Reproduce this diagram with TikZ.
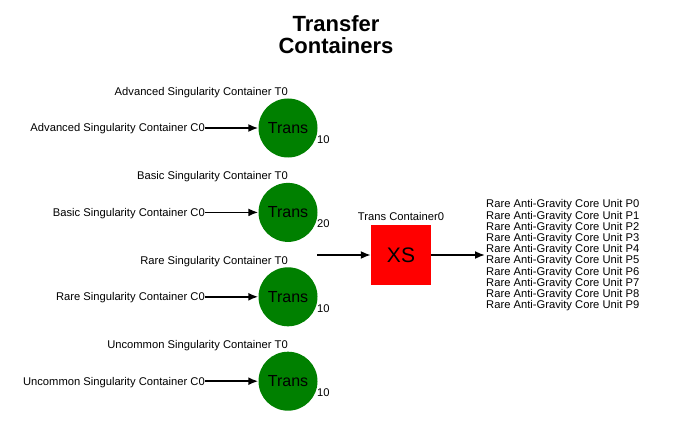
\documentclass[tikz,border=0pt]{standalone}
\usepackage{fontspec}
\setmainfont{Liberation Sans}
\usetikzlibrary{positioning,arrows.meta}
\definecolor{transgreen}{RGB}{0,128,0}
\tikzset{
  trans/.style={circle, fill=transgreen, minimum size=59pt, inner sep=0pt,
    font=\fontsize{16}{16}\selectfont},
  box/.style={fill=red, minimum size=60pt, inner sep=0pt,
    font=\fontsize{21}{21}\selectfont},
  lbl/.style={inner sep=0pt, font=\fontsize{11.2}{11.2}\selectfont},
  flow/.style={line width=1.8pt, -{Latex[length=10pt,width=8pt]}},
}

\begin{document}
\begin{tikzpicture}[x=1pt,y=-1pt]
   \useasboundingbox (0,0) rectangle (677,425);

   % title
   \node[align=center, font=\bfseries\fontsize{22}{22}\selectfont] (title)
   at (336,35) {Transfer\\Containers};

   % incoming containers
   \foreach \kind/\qty [count=\i from 0] in
   {Advanced/10, Basic/20, Rare/10, Uncommon/10}{
      \node[trans] (t\i) at (288,{128+84.4*\i}) {Trans};
      \node[lbl, anchor=east] (c\i) at (205,{129+84.4*\i})
      {\kind{} Singularity Container C0};
      \node[lbl, anchor=east] (n\i) at (288,{92.5+84.4*\i})
      {\kind{} Singularity Container T0};
      \node[lbl, anchor=west] (q\i) at (317,{139.5+84.4*\i}) {\qty};
      \draw[flow] (c\i.east |- t\i) -- (t\i);
   }

   % transfer box
   \node[box] (xs) at (401,255) {XS};
   \node[lbl, above=3.5pt of xs] (xslbl) {Trans Container0};
   \coordinate (in) at (317,255);
   \draw[flow] (in) -- (xs);

   % outgoing units
   \coordinate (out) at (485,255);
   \draw[flow] (xs) -- (out);
   \foreach \j in {0,...,9}{
      \node[lbl, anchor=west] (p\j) at (486,{205+11.2*\j})
      {Rare Anti-Gravity Core Unit P\j};
   }
\end{tikzpicture}
\end{document}
